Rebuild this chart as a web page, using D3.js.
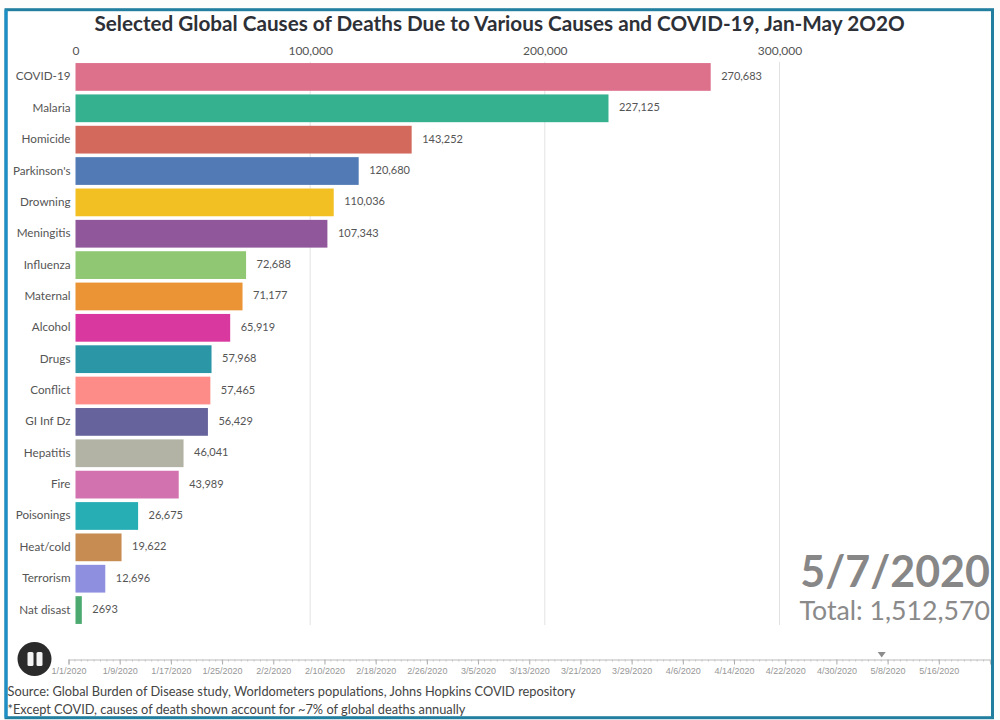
<!DOCTYPE html>
<html>
<head>
<meta charset="utf-8">
<script src="https://cdn.jsdelivr.net/npm/d3@7"></script>
<style>
    html, body { margin: 0; padding: 0; background: #fdfdfb; }
    svg { display: block; font-family: Lato, "Noto Sans", sans-serif; }
</style>
</head>
<body>
<svg id="chart" width="1000" height="720"></svg>
<script>
// values
const causes = ["COVID-19", "Malaria", "Homicide", "Parkinson's", "Drowning", "Meningitis", "Influenza", "Maternal",
    "Alcohol", "Drugs", "Conflict", "GI Inf Dz", "Hepatitis", "Fire", "Poisonings", "Heat/cold", "Terrorism", "Nat disast"];
const deaths = [270683, 227125, 143252, 120680, 110036, 107343, 72688, 71177,
    65919, 57968, 57465, 56429, 46041, 43989, 26675, 19622, 12696, 2693];
const valueLabels = ["270,683", "227,125", "143,252", "120,680", "110,036", "107,343", "72,688", "71,177",
    "65,919", "57,968", "57,465", "56,429", "46,041", "43,989", "26,675", "19,622", "12,696", "2693"];
const barColors = ["#dd718c", "#35b18f", "#d2695c", "#527bb5", "#f3c024", "#90579a", "#90c772", "#ea9435",
    "#d9399f", "#2a96a6", "#fd8b87", "#65629c", "#b2b3a5", "#d273b0", "#27aeb5", "#c68c52", "#8e8fdf", "#4caa70"];
const valueTicks = [0, 100000, 200000, 300000];
const timeTickLabels = ["1/1/2020", "1/9/2020", "1/17/2020", "1/25/2020", "2/2/2020", "2/10/2020", "2/18/2020", "2/26/2020",
    "3/5/2020", "3/13/2020", "3/21/2020", "3/29/2020", "4/6/2020", "4/14/2020", "4/22/2020", "4/30/2020", "5/8/2020", "5/16/2020"];
const currentDate = "5/7/2020";
const totalLabel = "Total: 1,512,570";

const svg = d3.select("#chart");
const parseDay = d3.timeParse("%m/%d/%Y");

const x = d3.scaleLinear().domain([0, 300000]).range([75.5, 779.5]);
const y = d3.scaleBand().domain(causes).range([61.5, 625.5]).paddingInner(0.115).paddingOuter(0.05);
const t = d3.scaleTime().domain([parseDay("1/1/2020"), parseDay("5/24/2020")]).range([68.5, 990]);

// frame
svg.append("rect").attr("x", 6).attr("y", 9.7).attr("width", 986.5).attr("height", 708)
    .attr("fill", "#ffffff").attr("stroke", "#237f9f").attr("stroke-width", 3);
svg.append("line").attr("x1", 6).attr("x2", 6).attr("y1", 9.7).attr("y2", 717.7)
    .attr("stroke", "#1c8fc6").attr("stroke-width", 3);

svg.append("text").attr("x", 499.5).attr("y", 31).attr("text-anchor", "middle")
    .attr("font-size", 20.7).attr("font-weight", 700).attr("fill", "#2d3036")
    .text("Selected Global Causes of Deaths Due to Various Causes and COVID-19, Jan-May 2O2O");

// value axis with gridlines
const xAxis = svg.append("g").attr("transform", "translate(0,61)")
    .call(d3.axisTop(x).tickValues(valueTicks).tickFormat(d3.format(",")).tickSize(0).tickPadding(6.5));
xAxis.select(".domain").remove();
xAxis.selectAll("text").attr("font-size", 12).attr("fill", "#555").attr("font-family", "Lato");
svg.append("g").selectAll("line").data(valueTicks.slice(1)).enter().append("line")
    .attr("x1", d => x(d)).attr("x2", d => x(d))
    .attr("y1", 62).attr("y2", 625)
    .attr("stroke", "#e2e2e2").attr("stroke-width", 1);

svg.append("g").selectAll("rect").data(causes).enter().append("rect")
    .attr("x", x(0))
    .attr("y", d => y(d))
    .attr("width", (d, i) => x(deaths[i]) - x(0))
    .attr("height", y.bandwidth())
    .attr("fill", (d, i) => barColors[i]);

svg.append("g").selectAll("text").data(causes).enter().append("text")
    .attr("x", 70.5)
    .attr("y", d => y(d) + y.bandwidth() / 2 + 3.5)
    .attr("text-anchor", "end").attr("font-size", 11.7).attr("fill", "#555")
    .text(d => d);

svg.append("g").selectAll("text").data(causes).enter().append("text")
    .attr("x", (d, i) => x(deaths[i]) + 10.5)
    .attr("y", d => y(d) + y.bandwidth() / 2 + 3)
    .attr("font-size", 11).attr("fill", "#555")
    .text((d, i) => valueLabels[i]);

// date counter
svg.append("text").attr("x", 990).attr("y", 587).attr("text-anchor", "end")
    .attr("font-size", 43).attr("font-weight", 700).attr("fill", "#878787").text(currentDate);
svg.append("text").attr("x", 990).attr("y", 620).attr("text-anchor", "end")
    .attr("font-size", 26.7).attr("fill", "#8a8a8a").text(totalLabel);

// timeline slider
const timeAxis = svg.append("g").attr("transform", "translate(0,659.5)")
    .call(d3.axisBottom(t).tickValues(timeTickLabels.map(parseDay)).tickFormat((d, i) => timeTickLabels[i]).tickSize(5).tickPadding(3.5));
timeAxis.select(".domain").attr("stroke", "#bbb");
timeAxis.selectAll("line").attr("stroke", "#aaa");
timeAxis.selectAll("text").attr("font-size", 9).attr("fill", "#979797");
svg.append("g").selectAll("line").data(t.ticks(d3.timeDay.every(1))).enter().append("line")
    .attr("x1", d => t(d)).attr("x2", d => t(d))
    .attr("y1", 659.5).attr("y2", 661.5)
    .attr("stroke", "#c4c4c4");
const marker = t(parseDay(currentDate));
svg.append("path").attr("d", d3.line()([[marker - 3.5, 652], [marker + 4.5, 652], [marker + 0.5, 657.5]]))
    .attr("fill", "#8c8c8c");

// pause button
svg.append("circle").attr("cx", 34.5).attr("cy", 659).attr("r", 17).attr("fill", "#2b2b2b");
svg.append("g").selectAll("rect").data([27.5, 36.5]).enter().append("rect")
    .attr("x", d => d).attr("y", 652).attr("width", 6).attr("height", 14).attr("rx", 1.5).attr("fill", "#f4f4f4");

// footer
svg.append("text").attr("x", 7.5).attr("y", 696).attr("font-size", 12.8).attr("fill", "#444")
    .text("Source: Global Burden of Disease study, Worldometers populations, Johns Hopkins COVID repository");
svg.append("text").attr("x", 7.5).attr("y", 714).attr("font-size", 12.8).attr("fill", "#444")
    .text("*Except COVID, causes of death shown account for ~7% of global deaths annually");
</script>
</body>
</html>
